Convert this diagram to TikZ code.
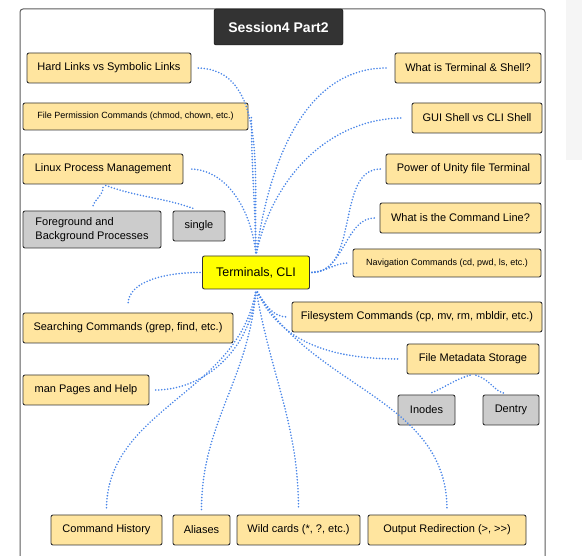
\documentclass[tikz,border=0pt]{standalone}
\usepackage{fontspec}
\setmainfont{Liberation Sans}
\definecolor{topicfill}{HTML}{FFE59F}
\definecolor{subfill}{HTML}{CCCCCC}
\definecolor{hubfill}{HTML}{FFFF00}
\definecolor{edgeline}{HTML}{333333}
\definecolor{linkblue}{HTML}{4A86E8}
\definecolor{titlefill}{HTML}{333333}
\definecolor{sidegray}{HTML}{F5F5F5}
\tikzset{
  topic/.style={draw=edgeline,line width=0.9pt,rounded corners=2pt,fill=topicfill,
    inner sep=0pt,font=\fontsize{11}{13}\selectfont},
  small/.style={font=\fontsize{9}{11}\selectfont},
  sub/.style={topic,fill=subfill},
  hubbox/.style={topic,fill=hubfill,font=\fontsize{12.5}{15}\selectfont},
  link/.style={draw=linkblue,line width=1.8pt,dash pattern=on 0pt off 3pt,line cap=round}
}
\begin{document}
\begin{tikzpicture}[x=1pt,y=-1pt]
\useasboundingbox (0,0) rectangle (582,556);
\fill[sidegray] (566,0) rectangle (582,160);
\path[draw=edgeline!80,line width=1pt,rounded corners=3pt] (20,570) -- (20,9) -- (545,9) -- (545,570);
\node[draw=black,fill=titlefill,rounded corners=2pt,minimum width=129pt,minimum height=36pt,
  text=white,font=\fontsize{14}{16}\selectfont\bfseries] (title) at (278.5,27) {Session4 Part2};

% central topic
\node[hubbox,minimum width=107pt,minimum height=33pt] (hub) at (256,272.5) {Terminals, CLI};

% left column
\node[topic,minimum width=164pt,minimum height=30pt] (hard) at (109,68) {Hard Links vs Symbolic Links};
\node[topic,small,minimum width=225pt,minimum height=27pt] (perm) at (135.5,116.5) {File Permission Commands (chmod, chown, etc.)};
\node[topic,minimum width=160pt,minimum height=30pt] (linux) at (103,169) {Linux Process Management};
\node[sub,minimum width=138pt,minimum height=37pt,align=left] (fg) at (92,229.5) {Foreground and\\[1pt]Background Processes};
\node[sub,minimum width=52pt,minimum height=30pt] (single) at (199,226) {single};
\node[topic,minimum width=210pt,minimum height=30pt] (search) at (128,328) {Searching Commands (grep, find, etc.)};
\node[topic,minimum width=126pt,minimum height=30pt] (man) at (86,390) {man Pages and Help};

% right column
\node[topic,minimum width=146pt,minimum height=30pt] (term) at (468,68) {What is Terminal \& Shell?};
\node[topic,minimum width=130pt,minimum height=30pt] (gui) at (477,118) {GUI Shell vs CLI Shell};
\node[topic,minimum width=155pt,minimum height=30pt] (unity) at (463.5,169) {Power of Unity file Terminal};
\node[topic,minimum width=161pt,minimum height=30pt] (cmdline) at (460.5,218) {What is the Command Line?};
\node[topic,small,minimum width=188pt,minimum height=28pt] (nav) at (447,263) {Navigation Commands (cd, pwd, ls, etc.)};
\node[topic,minimum width=250pt,minimum height=30pt] (fs) at (417,317) {Filesystem Commands (cp, mv, rm, mbldir, etc.)};
\node[topic,minimum width=132pt,minimum height=30pt] (meta) at (473,359) {File Metadata Storage};
\node[sub,minimum width=57pt,minimum height=30pt] (inodes) at (426.5,410) {Inodes};
\node[sub,minimum width=56pt,minimum height=30pt] (dentry) at (511,410) {Dentry};

% bottom row
\node[topic,minimum width=111pt,minimum height=30pt] (hist) at (106.5,530) {Command History};
\node[topic,minimum width=57pt,minimum height=30pt] (alias) at (201.5,530) {Aliases};
\node[topic,minimum width=123pt,minimum height=30pt] (wild) at (298.5,530) {Wild cards (*, ?, etc.)};
\node[topic,minimum width=158pt,minimum height=30pt] (outr) at (447,530) {Output Redirection (>, >{}>)};

% links from the hub
\path[link,shorten <=3pt,shorten >=5pt] (hub.north) to[out=92,in=0] (hard.east);
\path[link,shorten <=3pt] (hub.north) to[out=91,in=-90] ([xshift=3pt,yshift=1pt]perm.east);
\path[link,shorten <=3pt,shorten >=6pt] (hub.north) to[out=96,in=0] (linux.east);
\path[link,shorten <=3pt,shorten >=8pt] (hub.north) to[out=82,in=180] (term.west);
\path[link,shorten <=3pt,shorten >=8pt] (hub.north) to[out=78,in=180] (gui.west);
\path[link,shorten <=2pt,shorten >=5pt] (hub.east) to[out=0,in=180] (unity.west);
\path[link,shorten <=2pt,shorten >=5pt] (hub.east) to[out=0,in=180] (cmdline.west);
\path[link,shorten <=2pt,shorten >=4pt] (hub.east) to[out=5,in=180] (nav.west);
\path[link,shorten <=2pt,shorten >=8pt] (hub.west) to[out=180,in=90] (search.north);
\path[link,shorten <=3pt,shorten >=6pt] (hub.south) to[out=-95,in=0] (man.east);
\path[link,shorten <=3pt,shorten >=5pt] (hub.south) to[out=-100,in=90] (hist.north);
\path[link,shorten <=3pt,shorten >=5pt] (hub.south) to[out=-95,in=90] (alias.north);
\path[link,shorten <=3pt,shorten >=5pt] (hub.south) to[out=-80,in=90] (wild.north);
\path[link,shorten <=3pt,shorten >=5pt] (hub.south) to[out=-60,in=90] (outr.north);
\path[link,shorten <=3pt,shorten >=5pt] (hub.south) to[out=-60,in=180] (fs.west);
\path[link,shorten <=3pt,shorten >=6pt] (hub.south) to[out=-65,in=180] (meta.west);

% links to the sub topics
\path[link,shorten <=3pt,shorten >=3pt] (linux.south) to[out=-90,in=80] (fg.north);
\path[link,shorten <=3pt,shorten >=5pt] (linux.south) to[out=-20,in=160] (single.north);
\path[link,shorten <=3pt,shorten >=4pt] (meta.south) to[out=-165,in=20] (inodes.north);
\path[link,shorten <=3pt,shorten >=6pt] (meta.south) to[out=-15,in=170] (dentry.north);

\end{tikzpicture}
\end{document}
